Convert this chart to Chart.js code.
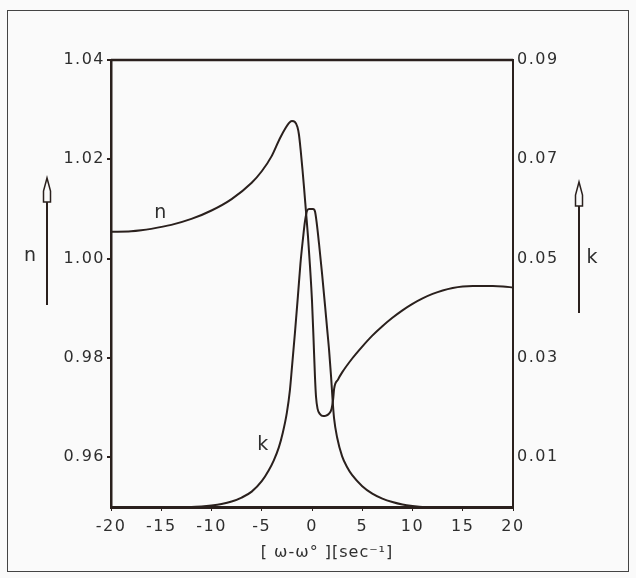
<!DOCTYPE html>
<html>
<head>
<meta charset="utf-8">
<script src="https://cdn.jsdelivr.net/npm/chart.js@4.4.1/dist/chart.umd.min.js"></script>
<style>
  html, body { margin: 0; padding: 0; background: #ffffff; }
  #wrap { width: 636px; height: 578px; }
</style>
</head>
<body>
<div id="wrap"><canvas id="chart" width="636" height="578"></canvas></div>
<script>
// tick labels
const xTicks = [-20, -15, -10, -5, 0, 5, 10, 15, 20];
const nTicks = [0.96, 0.98, 1.00, 1.02, 1.04];
const kTicks = [0.01, 0.03, 0.05, 0.07, 0.09];

// refractive index n (left axis)
const nX = [-20, -18, -17, -16, -14, -12, -10, -8, -6, -5, -4, -3.2, -2.6, -2.3, -2.0, -1.7, -1.45, -1.3, -1.13, -0.95, -0.8, -0.6,
  -0.4, -0.2, 0, 0.15, 0.3, 0.4, 0.55, 0.8, 1.1, 1.4, 1.7, 1.95, 2.1, 2.2, 2.6, 3, 4, 5, 6, 7, 8, 9, 10, 11, 12, 13, 14, 15, 16, 18, 19, 20];
const nVals = [1.0054, 1.0055, 1.0057, 1.0060, 1.0068, 1.0080, 1.0097, 1.0120, 1.0153, 1.0176, 1.0207, 1.0242, 1.0264, 1.0273, 1.0277, 1.0275, 1.0265, 1.0250, 1.0219, 1.0180, 1.0145, 1.0095,
  1.0045, 0.9985, 0.9915, 0.9840, 0.9760, 0.9722, 0.9698, 0.9687, 0.9683, 0.9684, 0.9688, 0.9698, 0.9716, 0.9738, 0.9757, 0.9771, 0.9799, 0.9823, 0.9845, 0.9864, 0.9881, 0.9896, 0.9909, 0.9920, 0.9929, 0.9936, 0.9941, 0.9944, 0.9945, 0.9945, 0.9944, 0.9942];

// extinction coefficient k (right axis)
const kX = [-20, -12, -11, -10, -9, -8, -7, -6, -5, -4.3, -3.8, -3.3, -2.9, -2.5, -2.2, -2.0, -1.7, -1.4, -1.15, -0.9, -0.7, -0.5, -0.3,
  0.1, 0.3, 0.45, 0.7, 1.0, 1.3, 1.5, 1.7, 1.9, 2.05, 2.2, 2.5, 3, 3.5, 4, 5, 6, 7, 8, 9, 10, 11, 20];
const kVals = [0, 0, 0.0001, 0.0003, 0.0006, 0.0011, 0.0019, 0.0031, 0.0052, 0.0074, 0.0094, 0.0120, 0.0150, 0.0190, 0.0235, 0.0280, 0.0350, 0.0425, 0.0490, 0.0540, 0.0575, 0.0596, 0.0600,
  0.0600, 0.0595, 0.0575, 0.0530, 0.0470, 0.0405, 0.0360, 0.0316, 0.0262, 0.0215, 0.0178, 0.0140, 0.0102, 0.0080, 0.0064, 0.0042, 0.0027, 0.0017, 0.0010, 0.0005, 0.0002, 0, 0];

const ink = '#2a201d';
const textInk = '#2e2e2e';
const tickFont = { family: 'DejaVu Sans', size: 16 };

const toPoints = (xs, ys) => xs.map((x, i) => ({ x: x, y: ys[i] }));

// frame, side arrows and labels
const decor = {
  id: 'decor',
  beforeDraw(chart) {
    const c = chart.ctx;
    c.save();
    c.fillStyle = '#fafafa';
    c.fillRect(0, 0, chart.width, chart.height);
    c.restore();
    c.letterSpacing = '1.5px';
  },
  afterDraw(chart) {
    const c = chart.ctx;
    const a = chart.chartArea;
    const xs = chart.scales.x, ys = chart.scales.y, ks = chart.scales.y1;
    c.save();
    c.letterSpacing = '0px';
    // outer frame
    c.strokeStyle = '#444';
    c.lineWidth = 1;
    c.strokeRect(7.5, 10.5, 621, 561);
    // top border of plot box
    c.strokeStyle = ink;
    c.lineWidth = 2.5;
    c.beginPath();
    c.moveTo(a.left, a.top);
    c.lineTo(a.right, a.top);
    c.stroke();

    // curve labels
    c.fillStyle = textInk;
    c.font = '19px "DejaVu Sans"';
    c.textAlign = 'center';
    c.textBaseline = 'middle';
    c.fillText('n', xs.getPixelForValue(-15.1), ys.getPixelForValue(1.0092));
    c.fillText('k', xs.getPixelForValue(-4.9), ks.getPixelForValue(0.0125));

    // side symbols
    c.fillText('n', 30, 256);
    c.fillText('k', 592, 258);
    const arrow = (x, top, bottom) => {
      c.strokeStyle = ink;
      c.lineWidth = 1.5;
      c.beginPath();
      c.moveTo(x, top);
      c.lineTo(x - 3.5, top + 13);
      c.lineTo(x - 3.5, top + 24);
      c.lineTo(x + 3.5, top + 24);
      c.lineTo(x + 3.5, top + 13);
      c.closePath();
      c.stroke();
      c.lineWidth = 2;
      c.beginPath();
      c.moveTo(x, top + 24);
      c.lineTo(x, bottom);
      c.stroke();
    };
    arrow(47, 178, 305);
    arrow(579, 182, 313);

    // axis title
    c.font = '16px "DejaVu Sans"';
    c.letterSpacing = '1px';
    c.fillText('[ ω-ω° ][sec⁻¹]', 327, 553);
    c.restore();
  }
};

new Chart(document.getElementById('chart').getContext('2d'), {
  type: 'line',
  data: {
    datasets: [
      {
        label: 'n',
        data: toPoints(nX, nVals),
        yAxisID: 'y',
        borderColor: ink,
        borderWidth: 2,
        pointRadius: 0,
        fill: false,
        cubicInterpolationMode: 'monotone'
      },
      {
        label: 'k',
        data: toPoints(kX, kVals),
        yAxisID: 'y1',
        borderColor: ink,
        borderWidth: 2,
        pointRadius: 0,
        fill: false,
        cubicInterpolationMode: 'monotone'
      }
    ]
  },
  options: {
    responsive: false,
    animation: false,
    devicePixelRatio: 1,
    layout: { padding: { top: 60, left: 0, right: 0, bottom: 0 } },
    plugins: {
      legend: { display: false },
      tooltip: { enabled: false }
    },
    scales: {
      x: {
        type: 'linear',
        min: -20,
        max: 20,
        afterBuildTicks: axis => { axis.ticks = xTicks.map(v => ({ value: v })); },
        afterFit: axis => { axis.height = 71; },
        ticks: { color: textInk, font: tickFont, padding: 6, maxRotation: 0, callback: v => String(v) },
        grid: { drawOnChartArea: false, drawTicks: true, tickLength: 4, color: ink },
        border: { display: true, color: ink, width: 3 }
      },
      y: {
        position: 'left',
        min: 0.95,
        max: 1.04,
        afterBuildTicks: axis => { axis.ticks = nTicks.map(v => ({ value: v })); },
        afterFit: axis => { axis.width = 111; },
        ticks: { color: textInk, font: tickFont, padding: 2, callback: v => v.toFixed(2) },
        grid: { drawOnChartArea: false, drawTicks: true, tickLength: 4, color: ink, lineWidth: 2 },
        border: { display: true, color: ink, width: 2.5 }
      },
      y1: {
        position: 'right',
        min: 0,
        max: 0.09,
        afterBuildTicks: axis => { axis.ticks = kTicks.map(v => ({ value: v })); },
        afterFit: axis => { axis.width = 123; },
        ticks: { color: textInk, font: tickFont, padding: 4, callback: v => v.toFixed(2) },
        grid: { drawOnChartArea: false, drawTicks: false, color: ink },
        border: { display: true, color: ink, width: 2 }
      }
    }
  },
  plugins: [decor]
});
</script>
</body>
</html>
